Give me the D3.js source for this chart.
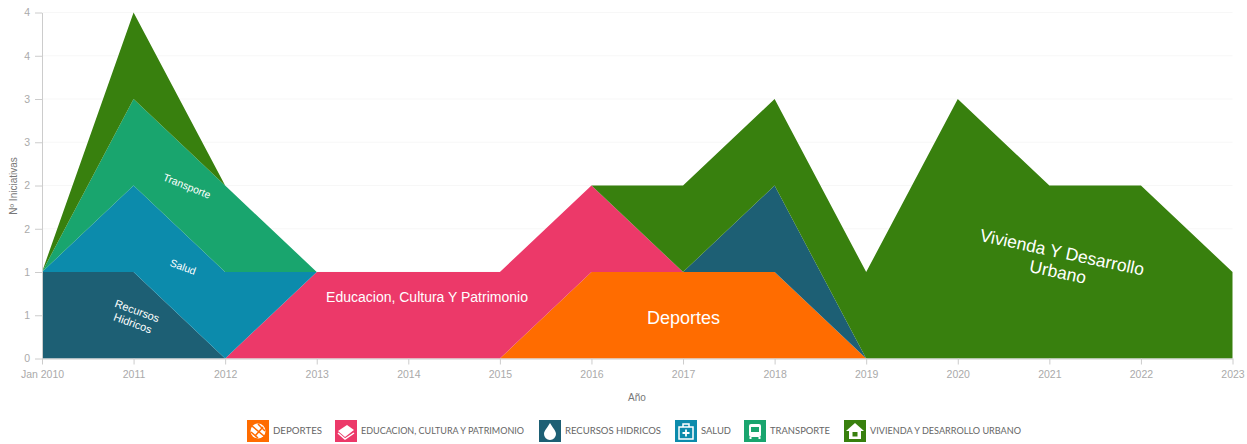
<!DOCTYPE html>
<html><head><meta charset="utf-8">
<script src="https://cdn.jsdelivr.net/npm/d3@7"></script>
<style>
html,body{margin:0;padding:0;background:#fff;overflow:hidden}
svg{display:block}
text{font-family:"Liberation Sans",Arial,sans-serif}
</style></head><body>
<svg id="c" width="1247" height="444"></svg>
<script>
const years=[2010,2011,2012,2013,2014,2015,2016,2017,2018,2019,2020,2021,2022,2023];
const deportes=[0,0,0,0,0,0,1,1,1,0,0,0,0,0];
const educacion=[0,0,0,1,1,1,1,0,0,0,0,0,0,0];
const recursos=[1,1,0,0,0,0,0,0,1,0,0,0,0,0];
const salud=[0,1,1,0,0,0,0,0,0,0,0,0,0,0];
const transporte=[0,1,1,0,0,0,0,0,0,0,0,0,0,0];
const vivienda=[0,1,0,0,0,0,0,1,1,1,3,2,2,1];
const seriesNames=["DEPORTES","EDUCACION, CULTURA Y PATRIMONIO","RECURSOS HIDRICOS","SALUD","TRANSPORTE","VIVIENDA Y DESARROLLO URBANO"];
const seriesColors=["#ff6c00","#ec3969","#1d5f74","#0c8bac","#19a56e","#38800e"];
const yTicks=[0,0.5,1,1.5,2,2.5,3,3.5,4];
const yTickLabels=["0","1","1","2","2","3","3","4","4"];
const xTickLabels=["Jan 2010","2011","2012","2013","2014","2015","2016","2017","2018","2019","2020","2021","2022","2023"];

const all=[deportes,educacion,recursos,salud,transporte,vivienda];
const rows=years.map((y,i)=>{const r={year:y};all.forEach((s,k)=>r[k]=s[i]);return r;});
const stacked=d3.stack().keys(all.map((_,k)=>k))(rows);
const x=d3.scaleLinear().domain([2010,2023]).range([42,1232.5]);
const y=d3.scaleLinear().domain([0,4]).range([358.5,12.5]);
const svg=d3.select("#c");

svg.append("g").selectAll("line").data(yTicks.slice(1)).join("line")
 .attr("x1",42).attr("x2",1232.5).attr("y1",d=>y(d)).attr("y2",d=>y(d))
 .attr("stroke","#f7f7f7").attr("stroke-width",1);

const area=d3.area().x(d=>x(d.data.year)).y0(d=>y(d[0])).y1(d=>y(d[1]));
svg.append("g").selectAll("path").data(stacked).join("path")
 .attr("d",area).attr("fill",(d,i)=>seriesColors[i]);

const xAxis=d3.axisBottom(x).tickValues(years).tickFormat((d,i)=>xTickLabels[i]).tickSize(6).tickSizeOuter(0).tickPadding(6);
const gx=svg.append("g").attr("transform","translate(0,358.5)").call(xAxis);
const yAxis=d3.axisLeft(y).tickValues(yTicks).tickFormat((d,i)=>yTickLabels[i]).tickSize(7).tickSizeOuter(0).tickPadding(5);
const gy=svg.append("g").attr("transform","translate(42,0)").call(yAxis);
[gx,gy].forEach(g=>{
 g.selectAll("path").attr("stroke","#ccc");
 g.selectAll("line").attr("stroke","#ccc");
 g.selectAll("text").attr("fill","#aaa").style("font-size","10.5px").style("font-family",'"Liberation Sans",Arial,sans-serif');
});

svg.append("text").attr("x",637).attr("y",401).attr("text-anchor","middle").attr("fill","#777").attr("font-size",10).text("Año");
svg.append("text").attr("transform","translate(17,186) rotate(-90)").attr("text-anchor","middle").attr("fill","#777").attr("font-size",10).text("Nº Iniciativas");

const labels=[
 {lines:["Transporte"],cx:187,cy:186,rot:22,size:10.5,lh:12},
 {lines:["Salud"],cx:183,cy:267,rot:20,size:10.5,lh:12},
 {lines:["Recursos","Hidricos"],cx:135,cy:317,rot:20,size:11,lh:13},
 {lines:["Educacion, Cultura Y Patrimonio"],cx:427,cy:297,rot:0,size:14,lh:16},
 {lines:["Deportes"],cx:683.5,cy:318,rot:0,size:18,lh:20},
 {lines:["Vivienda Y Desarrollo","Urbano"],cx:1060,cy:262,rot:12,size:17.5,lh:20}
];
labels.forEach(l=>{
 const t=svg.append("text").attr("transform",`translate(${l.cx},${l.cy}) rotate(${l.rot})`)
  .attr("text-anchor","middle").attr("fill","#fff").attr("font-size",l.size);
 const start=-(l.lines.length-1)*l.lh/2;
 l.lines.forEach((s,i)=>t.append("tspan").attr("x",0).attr("y",start+i*l.lh).attr("dy","0.35em").text(s));
});

const legendX=[247,335,539,675,744,844];
const textW=[49,163,96,30,60,151];
const glyphs=[
 g=>{g.append("circle").attr("cx",11).attr("cy",11).attr("r",7.5).attr("fill","#fff");
  g.append("path").attr("d","M5 6 L17 16 M4 12 L11 18 M11 4 L18 11 M8 16 L16 7").attr("stroke","#ff6c00").attr("stroke-width",1.6);},
 g=>{g.append("path").attr("d","M3 11 L12 5 L19 10 L10 17 Z").attr("fill","#fff");
  g.append("path").attr("d","M3 13 L10 19 L19 13").attr("fill","none").attr("stroke","#fff").attr("stroke-width",1.5);},
 g=>{g.append("path").attr("d","M11 3 C14 8 17 11 17 14 A6 6 0 0 1 5 14 C5 11 8 8 11 3 Z").attr("fill","#fff");},
 g=>{g.append("path").attr("d","M4 7 H18 V19 H4 Z M8 7 V4 H14 V7").attr("fill","none").attr("stroke","#fff").attr("stroke-width",1.5);
  g.append("path").attr("d","M11 9.5 V16.5 M7.5 13 H14.5").attr("stroke","#fff").attr("stroke-width",1.8);},
 g=>{g.append("rect").attr("x",5).attr("y",4).attr("width",12).attr("height",13).attr("rx",2).attr("fill","#fff");
  g.append("rect").attr("x",7).attr("y",7).attr("width",8).attr("height",5).attr("fill","#19a56e");
  g.append("path").attr("d","M6.5 17 V19 M15.5 17 V19").attr("stroke","#fff").attr("stroke-width",2);},
 g=>{g.append("path").attr("d","M2 11 L11 3 L20 11 H17 V19 H5 V11 Z").attr("fill","#fff");
  g.append("rect").attr("x",8.5).attr("y",12).attr("width",5).attr("height",4.5).attr("fill","#38800e");}
];
seriesNames.forEach((n,i)=>{
 const g=svg.append("g").attr("transform",`translate(${legendX[i]},420)`);
 g.append("rect").attr("width",22).attr("height",22).attr("fill",seriesColors[i]);
 glyphs[i](g);
 svg.append("text").attr("x",legendX[i]+26).attr("y",431).attr("dy","0.35em")
  .attr("font-size",9).attr("fill","#666").style("font-family","Lato,sans-serif")
  .attr("textLength",textW[i]).attr("lengthAdjust","spacingAndGlyphs").text(n);
});
</script>
</body></html>
